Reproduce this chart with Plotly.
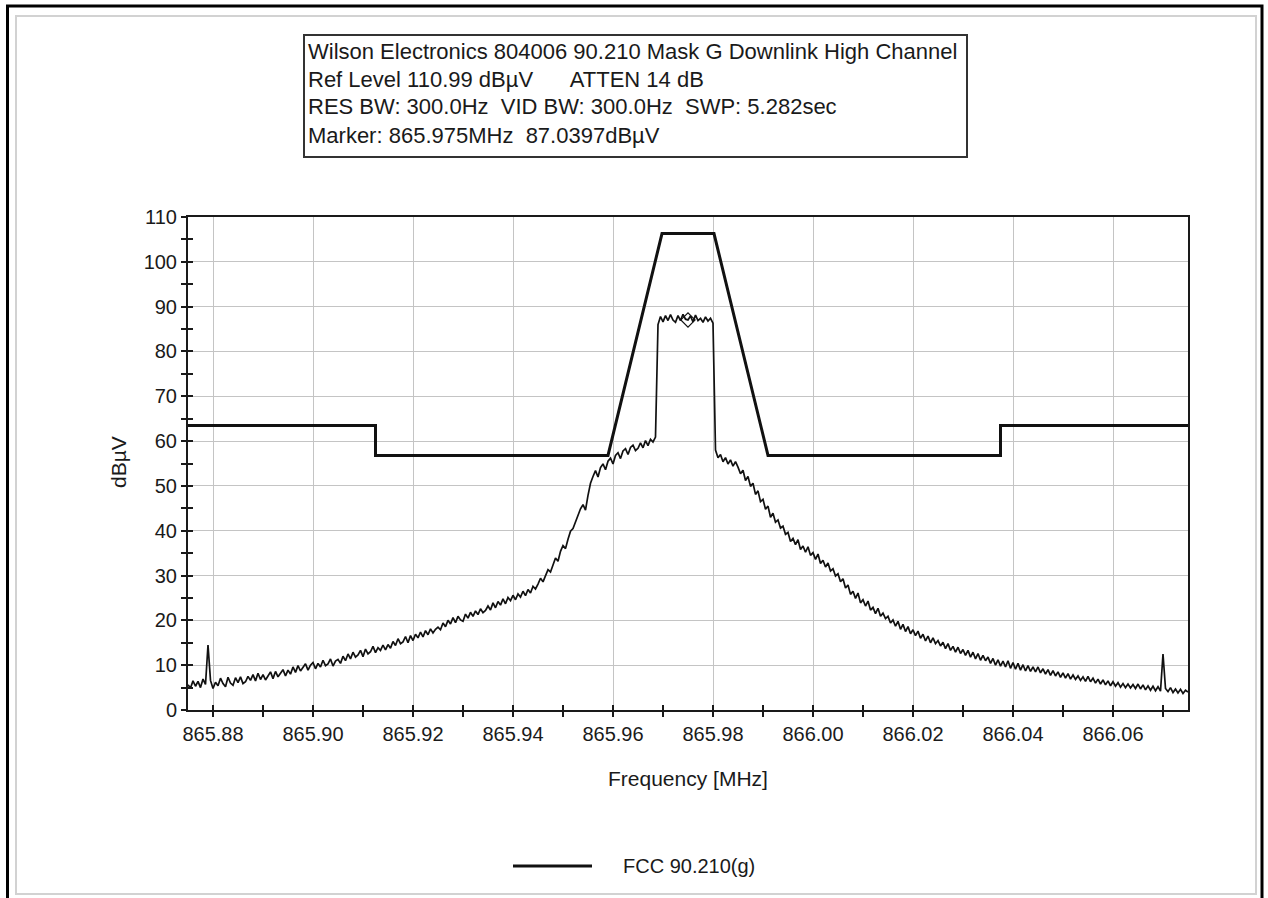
import numpy as np
import plotly.graph_objects as go

# ---------------- data ----------------
# Measured trace: 401 points, 865.875 .. 866.075 MHz, 0.5 kHz step
f_start_mhz = 865.875
f_step_mhz = 0.0005
level_dbuv = [
    5.6, 4.9, 6.5, 5.3, 6.4, 5.0, 6.9, 5.7, 14.5, 6.6, 4.8, 6.2, 5.4, 7.1, 5.9, 5.2, 7.3, 6.0, 5.5, 7.2,
    6.1, 7.4, 5.9, 6.3, 7.5, 6.6, 7.9, 6.5, 8.2, 6.8, 7.9, 6.7, 7.6, 8.5, 7.0, 8.6, 7.4, 8.1, 9.0, 7.6,
    8.9, 8.0, 9.6, 8.4, 9.9, 8.7, 9.5, 10.3, 8.9, 10.0, 10.6, 9.2, 10.4, 9.6, 11.1, 9.9, 10.3, 11.4, 9.8, 10.9,
    11.3, 10.4, 12.0, 11.0, 12.5, 11.4, 12.9, 11.8, 12.3, 13.3, 11.9, 13.6, 12.5, 13.0, 14.2, 12.8, 13.9, 13.3, 14.5, 13.4,
    14.6, 13.8, 15.3, 14.4, 15.9, 14.8, 15.2, 16.4, 15.0, 16.6, 15.5, 16.9, 16.1, 17.4, 16.3, 17.7, 16.8, 18.1, 17.2, 18.0,
    18.5, 17.9, 19.4, 18.6, 20.0, 19.2, 20.6, 19.5, 20.9, 20.1, 19.8, 21.4, 20.5, 21.8, 20.9, 22.1, 21.3, 22.6, 21.7, 22.2,
    23.2, 22.3, 23.9, 22.8, 24.2, 23.4, 24.8, 23.7, 25.1, 24.4, 25.6, 24.6, 25.9, 25.2, 26.5, 25.5, 26.9, 26.1, 27.6, 27.0,
    28.1, 29.4, 28.6, 30.2, 31.3, 30.8, 32.6, 33.9, 33.2, 35.4, 36.7, 36.0, 38.1, 39.9, 40.5, 42.1, 43.6, 44.9, 45.8, 44.6,
    47.9, 50.6, 52.1, 53.4, 52.0, 54.1, 54.9, 53.6, 55.5, 56.2, 54.9, 56.8, 57.4, 56.1, 57.8, 58.3, 57.0, 58.6, 59.1, 57.9,
    58.4, 59.6, 58.5, 60.1, 59.0, 60.4, 59.8, 60.9, 86.0, 87.8, 86.6, 88.0, 86.9, 88.2, 87.0, 86.5, 88.0, 86.9, 88.3, 87.2,
    87.04, 87.9, 86.6, 88.1, 86.9, 87.4, 86.5, 87.7, 86.8, 87.4, 86.3, 58.0, 56.3, 57.0, 55.4, 56.3, 54.9, 55.8, 54.4, 55.4,
    54.2, 52.7, 53.5, 51.2, 52.1, 49.9, 50.6, 48.1, 48.9, 46.5, 47.0, 44.8, 45.5, 43.0, 43.9, 41.9, 42.4, 40.6, 41.0, 39.2,
    39.6, 37.6, 38.3, 36.9, 38.0, 35.8, 36.6, 35.2, 36.4, 34.5, 35.1, 33.6, 34.8, 32.7, 33.4, 31.9, 32.8, 31.0, 31.5, 29.9,
    30.4, 28.6, 29.3, 27.2, 27.9, 25.8, 26.5, 24.9, 26.1, 23.9, 24.6, 23.2, 24.3, 22.3, 22.9, 21.5, 22.7, 20.9, 21.6, 20.4,
    20.9, 19.4, 20.1, 18.7, 19.8, 18.0, 19.1, 17.5, 18.6, 17.0, 17.9, 16.6, 17.6, 16.0, 16.9, 15.4, 16.5, 15.0, 16.1, 14.8,
    15.5, 14.3, 15.1, 13.7, 14.8, 13.3, 14.2, 12.9, 14.0, 12.6, 13.5, 12.2, 13.3, 11.8, 12.9, 11.4, 12.6, 11.1, 12.2, 11.0,
    11.8, 10.4, 11.5, 10.0, 11.2, 9.8, 10.9, 9.6, 11.0, 9.3, 10.6, 9.1, 10.4, 8.9, 10.1, 8.7, 9.9, 8.6, 9.6, 8.5,
    9.6, 8.3, 9.2, 8.0, 9.0, 7.7, 8.8, 7.6, 8.5, 7.3, 8.3, 7.1, 8.1, 6.9, 7.8, 6.8, 7.6, 6.6, 7.4, 6.4,
    7.5, 6.3, 7.1, 6.0, 6.9, 5.8, 6.7, 5.6, 6.5, 5.4, 6.3, 5.3, 6.1, 5.1, 5.9, 5.0, 5.8, 4.9, 5.7, 4.8,
    5.8, 4.7, 5.6, 4.5, 5.4, 4.4, 5.3, 4.3, 5.2, 4.2, 12.5, 4.8, 4.1, 5.0, 3.9, 4.7, 3.8, 4.6, 3.7, 4.4,
    4.0,
]
freq_mhz = np.round(f_start_mhz + f_step_mhz * np.arange(len(level_dbuv)), 4)

# FCC 90.210(g) emission mask
mask_freq_mhz = [865.875, 865.9125, 865.9125, 865.959, 865.9698, 865.9802, 865.991, 866.0375, 866.0375, 866.075]
mask_level_dbuv = [63.5, 63.5, 56.8, 56.8, 106.3, 106.3, 56.8, 56.8, 63.5, 63.5]

marker_freq_mhz = 865.975
marker_level_dbuv = 87.0397

header_lines = [
    "Wilson Electronics 804006 90.210 Mask G Downlink High Channel",
    "Ref Level 110.99 dBµV" + "\u00a0" * 6 + "ATTEN 14 dB",
    "RES BW: 300.0Hz\u00a0\u00a0VID BW: 300.0Hz\u00a0\u00a0SWP: 5.282sec",
    "Marker: 865.975MHz\u00a0\u00a087.0397dBµV",
]
legend_label = "FCC 90.210(g)"
x_title = "Frequency [MHz]"
y_title = "dBµV"

# ---------------- geometry helpers (page pixels -> paper) ----------------
W, H = 1268, 898
PL, PR, PT, PB = 188, 1188, 217, 710


def px(x):
    return (x - PL) / (PR - PL)


def py(y):
    return (PB - y) / (PB - PT)


FONT = "Liberation Sans, Arial, sans-serif"
INK = "#1a1a1a"

fig = go.Figure()

fig.add_trace(go.Scatter(
    x=freq_mhz, y=level_dbuv, mode="lines",
    line=dict(color="#111111", width=1.7), name="trace", showlegend=False,
))
fig.add_trace(go.Scatter(
    x=mask_freq_mhz, y=mask_level_dbuv, mode="lines",
    line=dict(color="#111111", width=3), name=legend_label, showlegend=False,
))
fig.add_trace(go.Scatter(
    x=[marker_freq_mhz], y=[marker_level_dbuv], mode="markers",
    marker=dict(symbol="diamond-open", size=11, color="#111111", line=dict(width=1.2)),
    showlegend=False,
))
# carrier for the overlay axes that draw the inner half of the tick marks
fig.add_trace(go.Scatter(
    x=[mask_freq_mhz[0]], y=[mask_level_dbuv[0]], mode="markers",
    marker=dict(opacity=0), xaxis="x2", yaxis="y2", hoverinfo="skip", showlegend=False,
))

x_range = [865.875, 866.075]
y_range = [0, 110]

common_x = dict(range=x_range, tick0=865.88, dtick=0.02, tickformat=".2f")
common_y = dict(range=y_range, tick0=0, dtick=10)

fig.update_layout(
    width=W, height=H,
    margin=dict(l=PL, r=W - PR, t=PT, b=H - PB),
    paper_bgcolor="white", plot_bgcolor="white",
    font=dict(family=FONT, size=20, color=INK),
    showlegend=False,
    xaxis=dict(
        **common_x,
        showgrid=True, gridcolor="#c4c4c4", gridwidth=1,
        showline=True, linecolor="#1a1a1a", linewidth=2, mirror=True,
        ticks="outside", ticklen=5, tickwidth=2, tickcolor="#1a1a1a",
        minor=dict(dtick=0.01, tick0=865.88, ticks="outside", ticklen=5, tickwidth=2,
                   tickcolor="#1a1a1a", showgrid=False),
        tickfont=dict(family=FONT, size=20, color=INK),
        zeroline=False,
    ),
    yaxis=dict(
        **common_y,
        showgrid=True, gridcolor="#c4c4c4", gridwidth=1,
        showline=True, linecolor="#1a1a1a", linewidth=2, mirror=True,
        ticks="outside", ticklen=5, tickwidth=2, tickcolor="#1a1a1a",
        minor=dict(dtick=5, tick0=0, ticks="outside", ticklen=5, tickwidth=2,
                   tickcolor="#1a1a1a", showgrid=False),
        tickfont=dict(family=FONT, size=20, color=INK),
        zeroline=False,
    ),
    xaxis2=dict(
        **common_x, overlaying="x", anchor="y2", showgrid=False, showline=False,
        showticklabels=False, ticks="inside", ticklen=5, tickwidth=2, tickcolor="#1a1a1a",
        minor=dict(dtick=0.01, tick0=865.88, ticks="inside", ticklen=5, tickwidth=2,
                   tickcolor="#1a1a1a", showgrid=False),
        zeroline=False,
    ),
    yaxis2=dict(
        **common_y, overlaying="y", anchor="x2", side="left", showgrid=False, showline=False,
        showticklabels=False, ticks="inside", ticklen=5, tickwidth=2, tickcolor="#1a1a1a",
        minor=dict(dtick=5, tick0=0, ticks="inside", ticklen=5, tickwidth=2,
                   tickcolor="#1a1a1a", showgrid=False),
        zeroline=False,
    ),
)

shapes = []
# outer window frame
shapes.append(dict(type="rect", xref="paper", yref="paper",
                   x0=px(7.5), x1=px(1262), y0=py(930), y1=py(6),
                   line=dict(color="black", width=3), layer="above"))
# inner bevel
shapes.append(dict(type="rect", xref="paper", yref="paper",
                   x0=px(16), x1=px(1256), y0=py(894), y1=py(16),
                   line=dict(color="#d2d2d2", width=2), layer="below"))
# header box
shapes.append(dict(type="rect", xref="paper", yref="paper",
                   x0=px(304), x1=px(967), y0=py(157), y1=py(35),
                   line=dict(color="#333333", width=2), layer="above"))
# legend sample line
shapes.append(dict(type="line", xref="paper", yref="paper",
                   x0=px(513), x1=px(592), y0=py(866), y1=py(866),
                   line=dict(color="#111111", width=3)))
fig.update_layout(shapes=shapes)

annotations = []
for i, line in enumerate(header_lines):
    annotations.append(dict(
        text=line, xref="paper", yref="paper", x=px(306), y=py(51 + 28 * i),
        xanchor="left", yanchor="middle", showarrow=False,
        font=dict(family=FONT, size=22, color=INK),
    ))
annotations.append(dict(
    text=x_title, xref="paper", yref="paper", x=px(688), y=py(778),
    xanchor="center", yanchor="middle", showarrow=False,
    font=dict(family=FONT, size=21, color=INK),
))
annotations.append(dict(
    text=y_title, xref="paper", yref="paper", x=px(118), y=py(462),
    xanchor="center", yanchor="middle", showarrow=False, textangle=-90,
    font=dict(family=FONT, size=21, color=INK),
))
annotations.append(dict(
    text=legend_label, xref="paper", yref="paper", x=px(621), y=py(866),
    xanchor="left", yanchor="middle", showarrow=False,
    font=dict(family=FONT, size=20, color=INK),
))
fig.update_layout(annotations=annotations)

fig.write_html("out.html")
